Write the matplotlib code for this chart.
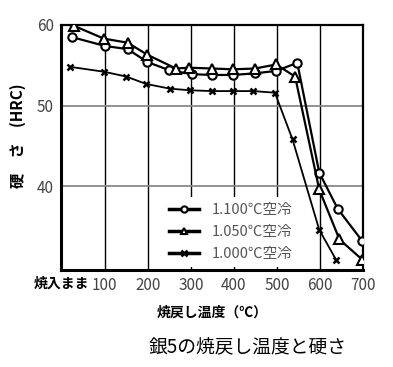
import matplotlib
matplotlib.use("Agg")
import matplotlib.pyplot as plt

plt.rcParams['font.family'] = ['Noto Sans CJK JP', 'DejaVu Sans']

# 1100 C air cooled
x_1100 = [23, 100, 153, 199, 249, 302, 348, 398, 449, 498, 547, 598, 641, 698]
y_1100 = [58.5, 57.4, 57.0, 55.4, 54.4, 53.9, 53.8, 53.8, 54.0, 54.3, 55.3, 41.7, 37.2, 33.2]
# 1050 C air cooled
x_1050 = [28, 98, 153, 199, 265, 295, 348, 398, 449, 498, 542, 598, 645, 698]
y_1050 = [59.9, 58.3, 57.8, 56.3, 54.6, 54.7, 54.6, 54.5, 54.6, 55.1, 53.6, 39.6, 33.4, 30.9]
# 1000 C air cooled
x_1000 = [20, 98, 150, 195, 251, 298, 348, 398, 445, 495, 536, 598, 637]
y_1000 = [54.8, 54.2, 53.6, 52.7, 52.1, 51.9, 51.8, 51.8, 51.8, 51.6, 45.8, 34.6, 30.9]

xticks = [0, 100, 200, 300, 400, 500, 600, 700]
xticklabels = ['焼入まま', '100', '200', '300', '400', '500', '600', '700']
yticks = [40, 50, 60]

fig = plt.figure(figsize=(3.93, 3.67), dpi=100)
ax = fig.add_axes([0.155, 0.264, 0.769, 0.668])

ax.plot(x_1100, y_1100, color='black', lw=1.6, marker='o', ms=6,
        mfc='white', mec='black', mew=1.5, label='1.100℃空冷', zorder=3)
ax.plot(x_1050, y_1050, color='black', lw=1.6, marker='^', ms=7,
        mfc='white', mec='black', mew=1.5, label='1.050℃空冷', zorder=3)
ax.plot(x_1000, y_1000, color='black', lw=1.3, marker='x', ms=5,
        mec='black', mew=1.8, label='1.000℃空冷', zorder=3)

ax.set_xlim(-2, 700)
ax.set_ylim(29.6, 60)
ax.set_xticks(xticks)
ax.set_xticklabels(xticklabels)
ax.set_yticks(yticks)
ax.tick_params(length=0, labelsize=11, labelcolor='#444444', pad=5)
ax.get_xticklabels()[0].set_fontweight('bold')
ax.get_xticklabels()[0].set_color('black')
ax.get_xticklabels()[0].set_fontsize(10)

for v in [100, 200, 300, 400, 500, 600]:
    ax.axvline(v, color='black', lw=1.0, zorder=1)
for v in [40, 50]:
    ax.axhline(v, color='#888888', lw=1.3, zorder=1)

for s in ['left', 'bottom']:
    ax.spines[s].set_linewidth(2.2)
for s in ['top', 'right']:
    ax.spines[s].set_linewidth(1.6)

ax.set_xlabel('焼戻し温度（℃）', fontsize=10, fontweight='bold', labelpad=8)
ax.set_ylabel('硬　さ　(HRC)', fontsize=11, fontweight='bold')
ax.yaxis.set_label_coords(-0.115, 0.55)

leg = ax.legend(loc='lower left', bbox_to_anchor=(0.33, 0.0), frameon=True,
                fontsize=10.5, handlelength=2.0, handletextpad=0.9,
                labelspacing=0.55, labelcolor='#555555', borderaxespad=0.2,
                facecolor='white', edgecolor='none', framealpha=1.0,
                fancybox=False)
leg.set_zorder(2)
for h in leg.legend_handles:
    h.set_markersize(4.5)
    h.set_linewidth(2.5)

fig.text(0.63, 0.055, '銀5の焼戻し温度と硬さ', fontsize=13.5, ha='center',
         va='center', color='black')

fig.savefig('out.png', dpi=100)
